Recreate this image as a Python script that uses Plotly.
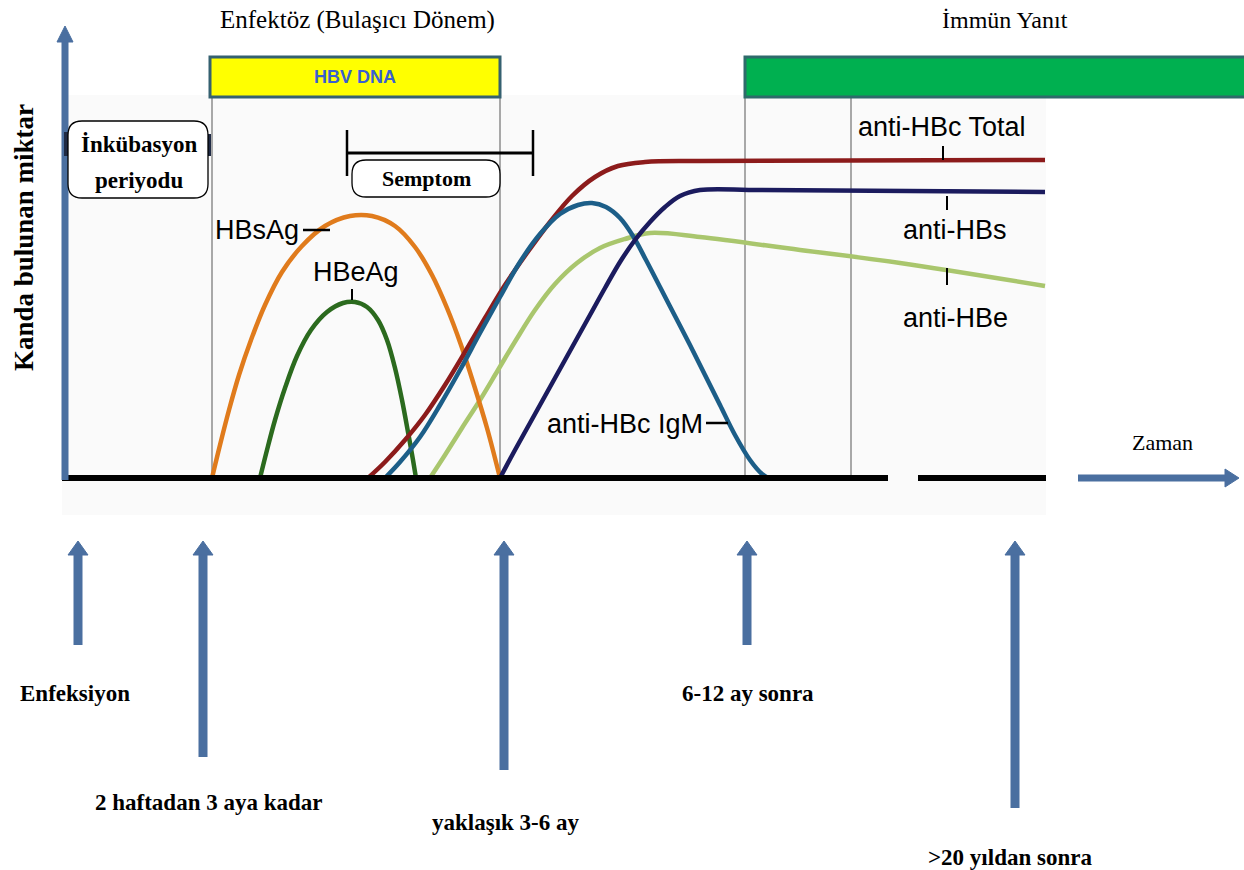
import plotly.graph_objects as go

# ---------------- data (time position, amount in blood above the time axis) ----------------
hbsag_t = [212, 220, 229, 239, 251, 265, 282, 302, 325, 350, 372, 395, 415, 432, 447, 461, 474, 487, 500]
hbsag_v = [0, 33, 68, 103, 138, 173, 206, 232, 252, 262, 262, 252, 231, 203, 170, 133, 93, 50, 0]

hbeag_t = [260, 267, 275, 285, 297, 311, 327, 343, 355, 367, 378, 387, 395, 402, 408, 413, 416]
hbeag_v = [0, 28, 58, 90, 122, 148, 166, 175, 176, 171, 158, 138, 110, 78, 46, 18, 0]

hbc_total_t = [368, 385, 405, 425, 445, 465, 485, 505, 527, 550, 572, 595, 618, 645, 700, 1045]
hbc_total_v = [0, 16, 38, 63, 93, 126, 160, 193, 225, 256, 282, 301, 312, 316, 317, 318]

hbc_igm_t = [385, 400, 420, 440, 460, 480, 500, 520, 540, 560, 578, 592, 606, 620, 633, 646,
             660, 675, 690, 705, 720, 735, 750, 762, 768]
hbc_igm_v = [0, 16, 41, 73, 108, 145, 181, 216, 244, 264, 273, 275, 271, 260, 242, 218,
             191, 162, 133, 103, 73, 43, 18, 4, 0]

hbe_anti_t = [430, 445, 462, 480, 498, 516, 535, 555, 577, 600, 625, 650, 700, 800, 900, 1045]
hbe_anti_v = [0, 23, 50, 78, 108, 138, 168, 194, 215, 230, 239, 245, 241, 228, 215, 192]

hbs_anti_t = [500, 515, 530, 545, 560, 575, 590, 605, 620, 635, 650, 665, 680, 700, 760, 1045]
hbs_anti_v = [0, 28, 55, 82, 109, 136, 163, 190, 216, 238, 256, 271, 282, 288, 288, 286]

series_names = ["HBsAg", "HBeAg", "anti-HBc Total", "anti-HBc IgM", "anti-HBe", "anti-HBs"]
series_colors = ["#e07b1c", "#2b6a1e", "#8c1b1b", "#1c5e88", "#a9c66d", "#1b1b5e"]

phase_lines = [212, 500, 745, 851]            # vertical period separators
milestone_x = [78, 203, 504, 747, 1015]
milestone_labels = ["Enfeksiyon", "2 haftadan 3 aya kadar", "yaklaşık 3-6 ay",
                    "6-12 ay sonra", ">20 yıldan sonra"]

# ---------------- layout helpers (page row -> axis value) ----------------
BASE = 478
def Y(py):
    return BASE - py

SERIF = "Liberation Serif, Times New Roman, serif"
SANS = "Liberation Sans, Arial, sans-serif"
ARROW = "#4a6fa0"

fig = go.Figure()

curves = [(hbsag_t, hbsag_v), (hbeag_t, hbeag_v), (hbc_total_t, hbc_total_v),
          (hbc_igm_t, hbc_igm_v), (hbe_anti_t, hbe_anti_v), (hbs_anti_t, hbs_anti_v)]
order = [4, 0, 1, 2, 3, 5]
for i in order:
    t, v = curves[i]
    fig.add_trace(go.Scatter(x=t, y=v, mode="lines", name=series_names[i],
                             line=dict(color=series_colors[i], width=4.5, shape="spline", smoothing=1.0),
                             hoverinfo="name", showlegend=False))

shapes = []
def line(x0, py0, x1, py1, color="black", width=2, layer="above"):
    shapes.append(dict(type="line", x0=x0, y0=Y(py0), x1=x1, y1=Y(py1), xref="x", yref="y",
                       line=dict(color=color, width=width), layer=layer))

def rect(x0, py0, x1, py1, fill, lc, lw, layer="above"):
    shapes.append(dict(type="rect", x0=x0, y0=Y(py0), x1=x1, y1=Y(py1), xref="x", yref="y",
                       fillcolor=fill, line=dict(color=lc, width=lw), layer=layer))

def rounded(x0, py0, x1, py1, r):
    a, b = Y(py0), Y(py1)  # a top, b bottom
    p = (f"M {x0+r},{a} L {x1-r},{a} Q {x1},{a} {x1},{a-r} L {x1},{b+r} Q {x1},{b} {x1-r},{b} "
         f"L {x0+r},{b} Q {x0},{b} {x0},{b+r} L {x0},{a-r} Q {x0},{a} {x0+r},{a} Z")
    shapes.append(dict(type="path", path=p, xref="x", yref="y", fillcolor="white",
                       line=dict(color="black", width=1.3), layer="above"))

def tri(pts, color=ARROW):
    p = "M " + " L ".join(f"{x},{Y(py)}" for x, py in pts) + " Z"
    shapes.append(dict(type="path", path=p, xref="x", yref="y", fillcolor=color,
                       line=dict(color=color, width=1), layer="above"))

# faint panel behind the curves
rect(62, 95, 1046, 515, "#fafafa", "rgba(0,0,0,0)", 0, layer="below")

# vertical period lines
for x in phase_lines:
    line(x, 97, x, 478, color="#8c8c8c", width=1.5, layer="below")

# top bars
rect(210, 57, 500, 97, "#ffff00", "#356170", 3)
rect(745, 57, 1260, 97, "#00b050", "#2e6b6b", 3)

# time axis (black, with a gap)
line(62, 478, 888, 478, width=6)
line(918, 478, 1046, 478, width=6)

# y arrow
line(65, 480, 65, 40, color=ARROW, width=7)
tri([(65, 26), (57, 42), (73, 42)])
# Zaman arrow
line(1078, 478, 1226, 478, color=ARROW, width=7)
tri([(1239, 478), (1225, 469), (1225, 487)])

# milestone arrows
arrow_bottom = [645, 757, 770, 645, 808]
for x, pb in zip(milestone_x, arrow_bottom):
    line(x, pb, x, 552, color=ARROW, width=9)
    tri([(x, 541), (x - 10, 555), (x + 10, 555)])

# incubation box + marks
line(66, 132, 66, 156, color="#1f2a44", width=4)
line(209, 134, 209, 156, color="#1f2a44", width=4)
rounded(68, 121, 208, 198, 14)

# symptom bracket + box
line(347, 153, 533, 153, width=3)
line(347, 130, 347, 176, width=2.5)
line(533, 130, 533, 176, width=2.5)
rounded(352, 160, 500, 197, 14)

# label leader ticks
line(303, 230, 330, 230, width=2.5)
line(352, 289, 352, 300, width=2)
line(943, 146, 943, 160, width=2)
line(947, 196, 947, 210, width=2)
line(947, 268, 947, 285, width=2)
line(706, 423, 728, 423, width=2.5)

annotations = []
def text(x, py, s, size, family, color="black", bold=False, angle=0):
    annotations.append(dict(x=x, y=Y(py), xref="x", yref="y", text=f"<b>{s}</b>" if bold else s,
                            showarrow=False, xanchor="center", yanchor="middle", textangle=angle,
                            font=dict(size=size, family=family, color=color)))

text(357, 20, "Enfektöz (Bulaşıcı Dönem)", 25, SERIF)
text(1005, 20, "İmmün Yanıt", 24, SERIF)
text(355, 77, "HBV DNA", 18, "Liberation Sans Narrow, Arial Narrow, Liberation Sans, Arial", color="#3a5fcf", bold=True)
text(24, 238, "Kanda bulunan miktar", 27, SERIF, bold=True, angle=-90)
text(139, 144, "İnkübasyon", 23, SERIF, bold=True)
text(139, 180, "periyodu", 23, SERIF, bold=True)
text(426, 178, "Semptom", 22, SERIF, bold=True)
text(1162, 442, "Zaman", 22, SERIF)

text(257, 230, "HBsAg", 27, SANS)
text(356, 272, "HBeAg", 27, SANS)
text(942, 127, "anti-HBc Total", 27, SANS)
text(955, 230, "anti-HBs", 27, SANS)
text(955, 318, "anti-HBe", 27, SANS)
text(625, 424, "anti-HBc IgM", 27, SANS)

label_y = [693, 802, 822, 693, 857]
label_x = [75, 208, 505, 748, 1010]
for x, py, s in zip(label_x, label_y, milestone_labels):
    text(x, py, s, 23, SERIF, bold=True)

fig.update_layout(
    width=1244, height=870,
    margin=dict(l=0, r=0, t=0, b=0),
    paper_bgcolor="white", plot_bgcolor="white",
    xaxis=dict(range=[0, 1244], visible=False, fixedrange=True),
    yaxis=dict(range=[Y(870), Y(0)], visible=False, fixedrange=True),
    shapes=shapes, annotations=annotations,
    showlegend=False,
)

fig.write_html("out.html", config={"displayModeBar": False},
               post_script="document.body.style.margin='0';")
